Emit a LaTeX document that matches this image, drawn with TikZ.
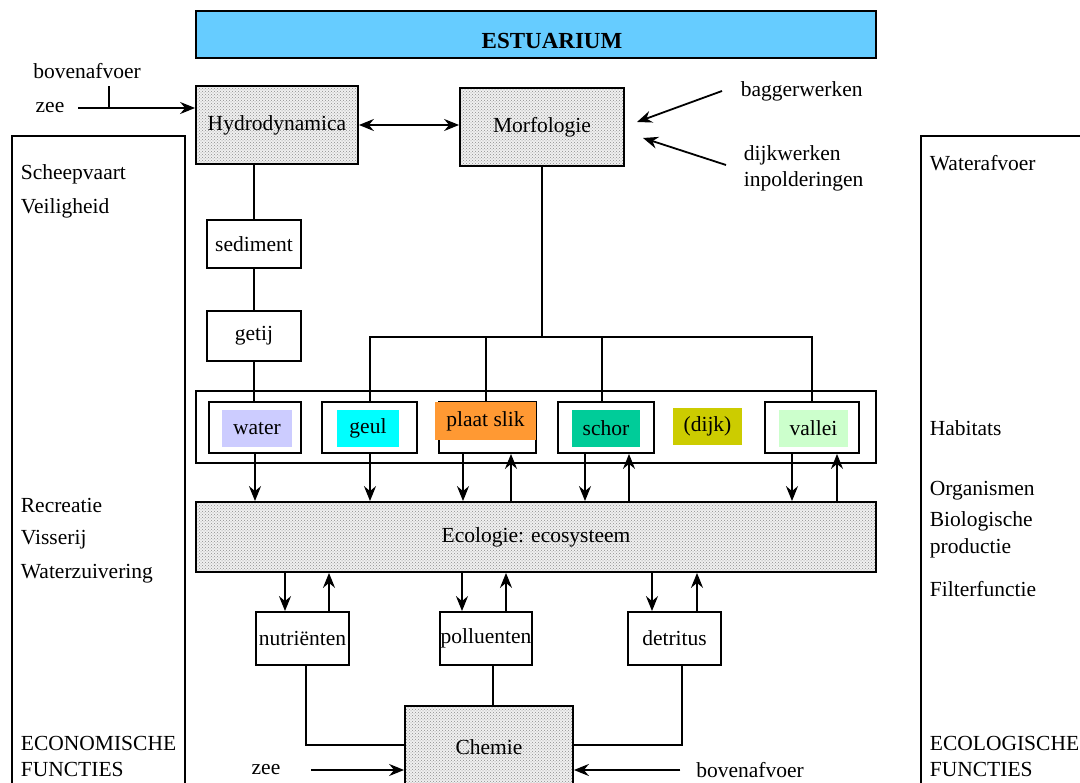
\documentclass[tikz,border=0pt]{standalone}
\usepackage{fontspec}
\setmainfont{Liberation Serif}
\usetikzlibrary{arrows.meta,patterns}
\definecolor{cEst}{HTML}{66CCFF}
\definecolor{cWater}{HTML}{CCCCFF}
\definecolor{cGeul}{HTML}{00FFFF}
\definecolor{cPlaat}{HTML}{FF9933}
\definecolor{cSchor}{HTML}{00CC99}
\definecolor{cDijk}{HTML}{CCCC00}
\definecolor{cVallei}{HTML}{CCFFCC}
\begin{document}
\begin{tikzpicture}[x=1pt,y=-1pt,line width=1.8pt,
  every node/.style={font=\fontsize{21.5}{26}\selectfont, inner sep=0pt},
  arr/.style={-{Stealth[length=15pt,width=12pt,inset=5pt]}},
  dblarr/.style={{Stealth[length=15pt,width=12pt,inset=5pt]}-{Stealth[length=15pt,width=12pt,inset=5pt]}},
  plainbox/.style={draw, fill=white},
  panel/.style={draw, anchor=north west},
  dotbox/.style={draw, preaction={fill=gray!12}, pattern=crosshatch dots, pattern color=gray!90},
  habin/.style={minimum width=69pt, minimum height=37pt},
  lbl/.style={anchor=west}
]
\useasboundingbox (0,0) rectangle (1080,783);
\fill[white] (0,0) rectangle (1080,783);

% title
\node[draw, fill=cEst, minimum width=680pt, minimum height=47pt] (est) at (536,34.5) {};
\node[font=\fontsize{23}{26}\selectfont\bfseries] (esttitle) at ([xshift=16pt,yshift=-7pt]est.center) {ESTUARIUM};

% side panels
\node[panel, minimum width=173pt, minimum height=680pt] (econ) at (11,135) {};
\node[panel, minimum width=200pt, minimum height=680pt] (ecol) at (920,135) {};
\node[lbl] (e1) at (20,174) {Scheepvaart};
\node[lbl] (e2) at (20,208) {Veiligheid};
\node[lbl] (e3) at (20,505) {Recreatie};
\node[lbl] (e4) at (20,540) {Visserij};
\node[lbl] (e5) at (20,574) {Waterzuivering};
\node[lbl] (e6) at (20,743) {ECONOMISCHE};
\node[lbl] (e7) at (20,769) {FUNCTIES};
\node[lbl] (o1) at (929,163) {Waterafvoer};
\node[lbl] (o2) at (929,428) {Habitats};
\node[lbl] (o3) at (929,491) {Organismen};
\node[lbl] (o4) at (929,521) {Biologische};
\node[lbl] (o5) at (929,548) {productie};
\node[lbl] (o6) at (929,589) {Filterfunctie};
\node[lbl] (o7) at (929,743) {ECOLOGISCHE};
\node[lbl] (o8) at (929,769) {FUNCTIES};

% top row
\node[dotbox, minimum width=162pt, minimum height=78pt] (hydro) at (277,125) {Hydrodynamica};
\node[dotbox, minimum width=164pt, minimum height=78pt] (morf) at (542,127) {Morfologie};
\draw[dblarr] (hydro.east) -- (morf.west |- hydro.east);

\node (bov1) at (87,71) {bovenafvoer};
\node (zee1) at (50,108) {zee};
\draw[arr] ([xshift=13pt]zee1.east) -- (hydro.west |- zee1.east);
\coordinate (j1) at (109,108);
\draw (j1) -- ++(0,-22);

\node[lbl] (bag) at (740,91) {baggerwerken};
\node[lbl, align=left] (dijk) at (743,168) {dijkwerken\\inpolderingen};
\coordinate (bagS) at (722,91);
\coordinate (bagE) at (637,122);
\coordinate (dijkS) at (726,165);
\coordinate (dijkE) at (643,138);
\draw[arr] (bagS) -- (bagE);
\draw[arr] (dijkS) -- (dijkE);

% sediment / getij
\node[plainbox, minimum width=94pt, minimum height=48pt] (sed) at (254,244) {sediment};
\node[plainbox, minimum width=94pt, minimum height=50pt] (getij) at (254,336) {getij};
\draw (sed.north) -- (sed.north |- hydro.south);
\draw (sed.south) -- (getij.north);

% habitats
\node[draw, minimum width=680pt, minimum height=72pt] (hab) at (536,427) {};
\node[plainbox, minimum width=92pt, minimum height=51pt] (waterB) at (255,427.5) {};
\node[plainbox, minimum width=95pt, minimum height=51pt] (geulB) at (369.5,427.5) {};
\node[plainbox, minimum width=97pt, minimum height=51pt] (plaatB) at (487.5,427.5) {};
\node[plainbox, minimum width=96pt, minimum height=51pt] (schorB) at (606,427.5) {};
\node[plainbox, minimum width=94pt, minimum height=51pt] (valleiB) at (812,427.5) {};
\node[habin, fill=cWater, minimum width=70pt] (water) at (257,428.5) {water};
\node[habin, fill=cGeul, minimum width=62pt] (geul) at (368,428.5) {geul};
\node[habin, fill=cPlaat, minimum width=101pt, minimum height=38pt] (plaat) at (485.5,421) {plaat slik};
\node[habin, fill=cSchor, minimum width=68pt] (schor) at (606,428.5) {schor};
\node[habin, fill=cDijk] (dijkh) at (707.5,426.5) {(dijk)};
\node[habin, fill=cVallei] (vallei) at (813.5,428.5) {vallei};

\draw (getij.south) -- (getij.south |- waterB.north);
\coordinate (bus) at (541,337);
\draw (morf.south) -- (morf.south |- bus);
\path ([xshift=0.5pt]geulB.north) coordinate (geulT) ([xshift=-1.5pt]plaatB.north) coordinate (plaatT);
\draw (geulT) -- (geulT |- bus) -- (valleiB.north |- bus) -- (valleiB.north);
\draw (plaatT) -- (plaatT |- bus);
\path ([xshift=-4pt]schorB.north) coordinate (schorT);
\draw (schorT) -- (schorT |- bus);

% ecologie
\node[dotbox, minimum width=680pt, minimum height=70pt] (eco) at (536,537) {Ecologie: ecosysteem};

\draw[arr] (waterB.south) -- (waterB.south |- eco.north);
\draw[arr] (geulT |- geulB.south) -- (geulT |- eco.north);
\path ([xshift=-24.5pt]plaatB.south) coordinate (pd) ([xshift=23.5pt]plaatB.south) coordinate (pu);
\draw[arr] (pd) -- (pd |- eco.north);
\draw[arr] (pu |- eco.north) -- (pu);
\path ([xshift=-21pt]schorB.south) coordinate (sd) ([xshift=23pt]schorB.south) coordinate (su);
\draw[arr] (sd) -- (sd |- eco.north);
\draw[arr] (su |- eco.north) -- (su);
\path ([xshift=-20pt]valleiB.south) coordinate (vd) ([xshift=25pt]valleiB.south) coordinate (vu);
\draw[arr] (vd) -- (vd |- eco.north);
\draw[arr] (vu |- eco.north) -- (vu);

% bottom row
\node[plainbox, minimum width=93pt, minimum height=53pt] (nut) at (302.5,638.5) {nutriënten};
\node[plainbox, minimum width=92pt, minimum height=53pt] (pol) at (486,638.5) {polluenten};
\node[plainbox, minimum width=93pt, minimum height=53pt] (det) at (674.5,638.5) {detritus};

\path ([xshift=-17.5pt]nut.north) coordinate (nd) ([xshift=26.5pt]nut.north) coordinate (nu);
\draw[arr] (nd |- eco.south) -- (nd);
\draw[arr] (nu) -- (nu |- eco.south);
\path ([xshift=-24pt]pol.north) coordinate (ld) ([xshift=20pt]pol.north) coordinate (lu);
\draw[arr] (ld |- eco.south) -- (ld);
\draw[arr] (lu) -- (lu |- eco.south);
\path ([xshift=-22.5pt]det.north) coordinate (dd) ([xshift=22.5pt]det.north) coordinate (du);
\draw[arr] (dd |- eco.south) -- (dd);
\draw[arr] (du) -- (du |- eco.south);

% chemie
\node[dotbox, minimum width=168pt, minimum height=82pt] (chem) at (489,747) {Chemie};
\path ([xshift=3.5pt]nut.south) coordinate (nb) ([xshift=7pt]pol.south) coordinate (lb) ([xshift=7.5pt]det.south) coordinate (db);
\draw (nb) |- ([yshift=2pt]chem.west);
\draw (lb) -- (lb |- chem.north);
\draw (db) |- ([yshift=2pt]chem.east);

\node (zee2) at (266,770) {zee};
\node (bov2) at (750,770) {bovenafvoer};
\draw[arr] ([xshift=30pt]zee2.east) -- (chem.west |- zee2.east);
\draw[arr] ([xshift=-15pt]bov2.west) -- (chem.east |- bov2.west);
\end{tikzpicture}
\end{document}
